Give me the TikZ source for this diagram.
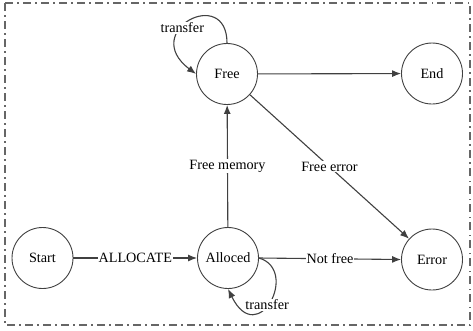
\documentclass[tikz,border=0pt]{standalone}
\usepackage{fontspec}
\setmainfont{Liberation Serif}
\usetikzlibrary{arrows.meta}
\begin{document}
\begin{tikzpicture}[x=1bp,y=-1bp,
  every node/.style={font=\fontsize{14.2bp}{17bp}\selectfont, text=black},
  state/.style={circle,draw=black!75,line width=0.9bp,minimum size=61bp,inner sep=0pt},
  edge/.style={draw=black!75,line width=1.1bp,-{Latex[length=9bp,width=7bp]}},
  lbl/.style={fill=white,inner sep=1bp}]
\useasboundingbox (0,0) rectangle (473,330);
\draw[black!60,line width=1.2bp,dash pattern=on 8bp off 4bp on 1.5bp off 4.5bp] (5,3) rectangle (470,325);
\node[state] (Start) at (42.5,258) {Start};
\node[state] (Alloced) at (228,258) {Alloced};
\node[state] (Free) at (227,74) {Free};
\node[state] (End) at (432,73.5) {End};
\node[state] (Error) at (432,259.5) {Error};
\draw[edge] (Start) -- node[lbl] {ALLOCATE} (Alloced);
\draw[edge] (Alloced) -- node[lbl] {Free memory} (Free);
\draw[edge] (Free) -- (End);
\draw[edge] (Free) -- node[lbl] {Free error} (Error);
\draw[edge] (Alloced.east) -- node[lbl] {Not free} (Error.west);
\draw[edge] (Free.north) .. controls +(0,-58) and +(-57,-43) .. node[lbl,pos=0.6] {transfer} (Free.west);
\draw[edge] (Alloced.east) .. controls +(41,12) and +(30,61) .. node[lbl,pos=0.55] {transfer} (Alloced.south);
\end{tikzpicture}
\end{document}
